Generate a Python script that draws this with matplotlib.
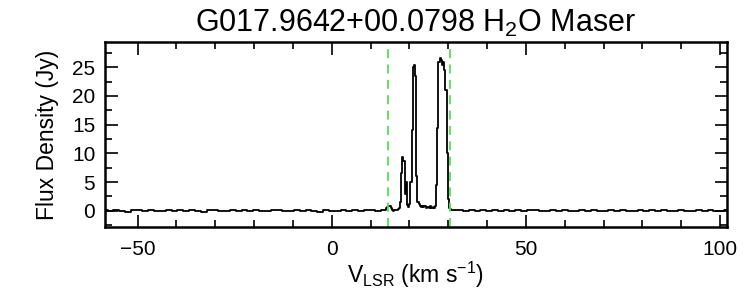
import matplotlib
matplotlib.use("Agg")
import matplotlib.pyplot as plt
from matplotlib.ticker import MultipleLocator

plt.rcParams['font.family'] = ['Liberation Sans', 'DejaVu Sans']
plt.rcParams['mathtext.fontset'] = 'custom'
plt.rcParams['mathtext.rm'] = 'Liberation Sans'
plt.rcParams['mathtext.it'] = 'Liberation Sans'

title = "G017.9642+00.0798 H$\\mathregular{_2}$O Maser"
xlabel = "V$\\mathregular{_{LSR}}$ (km s$\\mathregular{^{-1}}$)"
ylabel = "Flux Density (Jy)"

vel_left = [-58.4, -57, -55.5, -54, -52.5, -51, -49.5, -48, -46.5, -45, -43.5, -42,
            -40.5, -39, -37.5, -36, -34.5, -33, -31.5, -30, -28.5, -27, -25.5, -24,
            -22.5, -21, -19.5, -18, -16.5, -15, -13.5, -12, -10.5, -9, -7.5, -6,
            -4.5, -3, -1.5, 0, 1.5, 3, 4.5, 6, 7.5, 9, 10.5, 12]
flux_left = [0.05, -0.1, 0.1, 0.0, -0.15, 0.1, 0.05, -0.05, 0.15, -0.1, 0.0, 0.1,
             -0.05, 0.05, -0.1, 0.1, 0.0, -0.2, 0.05, 0.1, -0.05, 0.0, 0.15, -0.1,
             0.05, -0.05, 0.1, 0.0, -0.1, 0.05, 0.15, -0.05, 0.0, 0.1, -0.1, 0.05,
             0.0, -0.2, 0.1, 0.0, -0.1, 0.05, 0.0, 0.1, -0.05, 0.05, 0.1, 0.0]

vel_peak = [13.2, 13.5, 13.8, 14.1, 14.4, 14.7, 15.0, 15.3, 15.6, 15.9, 16.2, 16.5,
            16.8, 17.1, 17.4, 17.7, 18.0, 18.3, 18.6, 18.9, 19.2, 19.5, 19.8, 20.1,
            20.4, 20.7, 21.0, 21.3, 21.6, 21.9, 22.2, 22.5, 22.8, 23.1, 23.4, 23.7,
            24.0, 24.3, 24.6, 24.9, 25.2, 25.5, 25.8, 26.1, 26.4, 26.7, 27.0, 27.3,
            27.6, 27.9, 28.2, 28.5, 28.8, 29.1, 29.4, 29.7, 30.0, 30.3, 30.6, 30.9]
flux_peak = [0.1, 0.1, 0.2, 0.4, 0.7, 0.9, 0.8, 0.4, 0.1, 0.0, 0.1, 0.2,
             0.15, 0.3, 0.4, 1.5, 6.5, 9.4, 8.6, 3.0, 5.0, 1.0, 0.6, 1.2,
             5.0, 14.0, 25.0, 25.4, 23.5, 6.0, 1.5, 1.2, 0.9, 0.7, 0.9, 0.6,
             0.8, 0.5, 0.7, 0.6, 0.4, 0.8, 0.5, 0.6, 0.4, 0.9, 4.5, 14.5,
             26.0, 26.6, 26.2, 25.4, 25.9, 24.5, 21.0, 10.0, 2.0, 0.4, 0.3, 0.2]

vel_right = [31.5, 33, 34.5, 36, 37.5, 39, 40.5, 42, 43.5, 45, 46.5, 48, 49.5, 51,
             52.5, 54, 55.5, 57, 58.5, 60, 61.5, 63, 64.5, 66, 67.5, 69, 70.5, 72,
             73.5, 75, 76.5, 78, 79.5, 81, 82.5, 84, 85.5, 87, 88.5, 90, 91.5, 93,
             94.5, 96, 97.5, 99, 100.5, 101.7]
flux_right = [0.1, 0.05, 0.0, 0.1, -0.05, 0.05, 0.0, 0.1, -0.1, 0.05, 0.0, 0.1, -0.05, 0.05,
              0.1, -0.1, 0.0, 0.05, -0.05, 0.1, 0.0, -0.1, 0.05, 0.0, 0.1, -0.05, 0.0, 0.05,
              -0.1, 0.1, 0.0, -0.05, 0.05, 0.0, 0.1, -0.1, 0.05, 0.0, -0.05, 0.1, 0.0, -0.1,
              0.05, 0.0, 0.1, -0.05, 0.0, 0.05]

vel_markers = [14.4, 30.4]

fig = plt.figure(figsize=(7.5, 3.0), dpi=100)
ax = fig.add_axes([0.140, 0.243, 0.829, 0.618])

ax.plot(vel_left + vel_peak + vel_right, flux_left + flux_peak + flux_right,
        color='black', lw=1.3, drawstyle='steps-mid')
for v in vel_markers:
    ax.axvline(v, color='#55e055', lw=1.3, ls=(0, (5, 3.5)))

ax.set_xlim(-58.4, 101.7)
ax.set_ylim(-2.85, 29.45)
ax.xaxis.set_major_locator(MultipleLocator(50))
ax.xaxis.set_minor_locator(MultipleLocator(10))
ax.yaxis.set_major_locator(MultipleLocator(5))
ax.yaxis.set_minor_locator(MultipleLocator(2.5))
ax.tick_params(which='both', direction='in', top=True, right=True, width=1.2,
               labelsize=15)
ax.tick_params(axis='x', pad=9)
ax.tick_params(axis='y', pad=7)
ax.tick_params(which='major', length=9)
ax.tick_params(which='minor', length=5)
for s in ax.spines.values():
    s.set_linewidth(1.8)

ax.set_title(title, fontsize=22, pad=7)
ax.set_xlabel(xlabel, fontsize=16.5, labelpad=1)
ax.set_ylabel(ylabel, fontsize=16.5, labelpad=9)

fig.savefig("out.png", dpi=100)
